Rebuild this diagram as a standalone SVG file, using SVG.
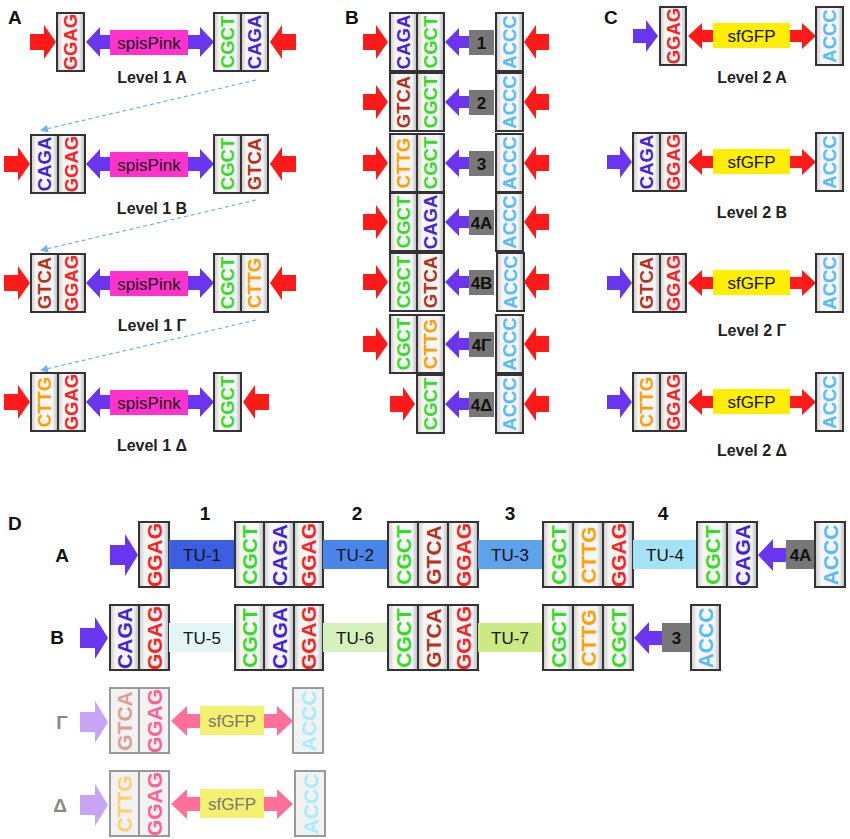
<svg xmlns="http://www.w3.org/2000/svg" width="850" height="839" viewBox="0 0 850 839">
<defs>
<linearGradient id="g" x1="0" x2="1" y1="0" y2="0"><stop offset="0" stop-color="#c8c8c8"/><stop offset="0.2" stop-color="#f6f6f6"/><stop offset="0.8" stop-color="#f6f6f6"/><stop offset="1" stop-color="#b8b8b8"/></linearGradient>
<marker id="ah" markerWidth="8" markerHeight="8" refX="6" refY="4" orient="auto" markerUnits="userSpaceOnUse"><path d="M0,0 L8,4 L0,8 z" fill="#6ab4ee"/></marker>
</defs>
<style>
.c{fill:url(#g);stroke:#333;stroke-width:2}
.f{fill:#f2f2f2;stroke:#999;stroke-width:2}
.t{font-family:"Liberation Sans",Arial,sans-serif;font-size:18.5px;font-weight:bold;text-anchor:middle;dominant-baseline:central}
.td{font-family:"Liberation Sans",Arial,sans-serif;font-size:21px;font-weight:bold;text-anchor:middle;dominant-baseline:central}
.lb{font-family:"Liberation Sans",Arial,sans-serif;font-size:16px;font-weight:bold;text-anchor:middle;fill:#222}
.pl{font-family:"Liberation Sans",Arial,sans-serif;font-size:19px;font-weight:bold;fill:#111}
.gt{font-family:"Liberation Sans",Arial,sans-serif;font-size:17px;font-weight:bold;text-anchor:middle;dominant-baseline:central;fill:#111}
.nt{font-family:"Liberation Sans",Arial,sans-serif;font-size:17px;text-anchor:middle;dominant-baseline:central;fill:#111}
.r{fill:#ff1a1a}.p{fill:#6a35ee}.gr{fill:#777}
.R{fill:#ff2020}.G{fill:#33dd22}.B{fill:#4422dd}.N{fill:#b83018}.O{fill:#ffa000}.C{fill:#55bbff}
.dash{stroke:#6ab4ee;stroke-width:1.2;stroke-dasharray:4 3;fill:none}
</style>

<text class="pl" x="8" y="24">A</text>
<text class="pl" x="345" y="24">B</text>
<text class="pl" x="604" y="24">C</text>
<text class="pl" x="8" y="530">D</text>

<g id="connectors">
<line class="dash" x1="256" y1="80" x2="42" y2="130" marker-end="url(#ah)"/>
<line class="dash" x1="256" y1="200" x2="42" y2="250" marker-end="url(#ah)"/>
<line class="dash" x1="256" y1="320" x2="42" y2="370" marker-end="url(#ah)"/>
</g>

<!-- Panel A -->
<g id="A1">
<path class="r" d="M30,34h14v-9l12,17l-12,17v-9h-14z"/>
<rect class="c" x="57" y="13" width="27" height="58"/><text class="t R" transform="translate(70.5,42) rotate(-90)">GGAG</text>
<path class="p" d="M86,42l14,-15v8h100v-8l14,15l-14,15v-8h-100v8z"/>
<rect x="110" y="30" width="78" height="25" fill="#ff33cc"/><text class="nt" x="149" y="43">spisPink</text>
<rect class="c" x="214" y="13" width="27" height="58"/><text class="t G" transform="translate(227.5,42) rotate(-90)">CGCT</text>
<rect class="c" x="241" y="13" width="27" height="58"/><text class="t B" transform="translate(254.5,42) rotate(-90)">CAGA</text>
<path class="r" d="M296,34h-14v-9l-12,17l12,17v-9h14z"/>
<text class="lb" x="152" y="83">Level 1 A</text>
</g>
<g id="A2">
<path class="r" d="M4,156h14v-9l12,17l-12,17v-9h-14z"/>
<rect class="c" x="31" y="135" width="27" height="58"/><text class="t B" transform="translate(44.5,164) rotate(-90)">CAGA</text>
<rect class="c" x="58" y="135" width="27" height="58"/><text class="t R" transform="translate(71.5,164) rotate(-90)">GGAG</text>
<path class="p" d="M86,164l14,-15v8h100v-8l14,15l-14,15v-8h-100v8z"/>
<rect x="110" y="152" width="78" height="25" fill="#ff33cc"/><text class="nt" x="149" y="165">spisPink</text>
<rect class="c" x="214" y="135" width="27" height="58"/><text class="t G" transform="translate(227.5,164) rotate(-90)">CGCT</text>
<rect class="c" x="241" y="135" width="27" height="58"/><text class="t N" transform="translate(254.5,164) rotate(-90)">GTCA</text>
<path class="r" d="M296,156h-14v-9l-12,17l12,17v-9h14z"/>
<text class="lb" x="152" y="214">Level 1 B</text>
</g>
<g id="A3">
<path class="r" d="M4,275h14v-9l12,17l-12,17v-9h-14z"/>
<rect class="c" x="31" y="254" width="27" height="58"/><text class="t N" transform="translate(44.5,283) rotate(-90)">GTCA</text>
<rect class="c" x="58" y="254" width="27" height="58"/><text class="t R" transform="translate(71.5,283) rotate(-90)">GGAG</text>
<path class="p" d="M86,283l14,-15v8h100v-8l14,15l-14,15v-8h-100v8z"/>
<rect x="110" y="271" width="78" height="25" fill="#ff33cc"/><text class="nt" x="149" y="284">spisPink</text>
<rect class="c" x="214" y="254" width="27" height="58"/><text class="t G" transform="translate(227.5,283) rotate(-90)">CGCT</text>
<rect class="c" x="241" y="254" width="27" height="58"/><text class="t O" transform="translate(254.5,283) rotate(-90)">CTTG</text>
<path class="r" d="M296,275h-14v-9l-12,17l12,17v-9h14z"/>
<text class="lb" x="152" y="331">Level 1 Γ</text>
</g>
<g id="A4">
<path class="r" d="M4,394h14v-9l12,17l-12,17v-9h-14z"/>
<rect class="c" x="31" y="373" width="27" height="58"/><text class="t O" transform="translate(44.5,402) rotate(-90)">CTTG</text>
<rect class="c" x="58" y="373" width="27" height="58"/><text class="t R" transform="translate(71.5,402) rotate(-90)">GGAG</text>
<path class="p" d="M86,402l14,-15v8h100v-8l14,15l-14,15v-8h-100v8z"/>
<rect x="110" y="390" width="78" height="25" fill="#ff33cc"/><text class="nt" x="149" y="403">spisPink</text>
<rect class="c" x="214" y="373" width="27" height="58"/><text class="t G" transform="translate(227.5,402) rotate(-90)">CGCT</text>
<path class="r" d="M269,394h-14v-9l-12,17l12,17v-9h14z"/>
<text class="lb" x="152" y="451">Level 1 Δ</text>
</g>

<!-- Panel B -->
<g id="B1">
<path class="r" d="M363,34h13v-9l12,17l-12,17v-9h-13z"/>
<rect class="c" x="390" y="13" width="27" height="58"/><text class="t B" transform="translate(403.5,42) rotate(-90)">CAGA</text>
<rect class="c" x="417" y="13" width="27" height="58"/><text class="t G" transform="translate(430.5,42) rotate(-90)">CGCT</text>
<path class="p" d="M445,42l14,-14v8h11v12h-11v8z"/>
<rect class="gr" x="469" y="30" width="25" height="25"/><text class="gt" x="481.5" y="43">1</text>
<rect class="c" x="496" y="13" width="27" height="58"/><text class="t C" transform="translate(509.5,42) rotate(-90)">ACCC</text>
<path class="r" d="M549,34h-13v-9l-12,17l12,17v-9h13z"/>
</g>
<g id="B2">
<path class="r" d="M363,94h13v-9l12,17l-12,17v-9h-13z"/>
<rect class="c" x="390" y="73" width="27" height="58"/><text class="t N" transform="translate(403.5,102) rotate(-90)">GTCA</text>
<rect class="c" x="417" y="73" width="27" height="58"/><text class="t G" transform="translate(430.5,102) rotate(-90)">CGCT</text>
<path class="p" d="M445,102l14,-14v8h11v12h-11v8z"/>
<rect class="gr" x="469" y="90" width="25" height="25"/><text class="gt" x="481.5" y="103">2</text>
<rect class="c" x="496" y="73" width="27" height="58"/><text class="t C" transform="translate(509.5,102) rotate(-90)">ACCC</text>
<path class="r" d="M549,94h-13v-9l-12,17l12,17v-9h13z"/>
</g>
<g id="B3">
<path class="r" d="M363,155h13v-9l12,17l-12,17v-9h-13z"/>
<rect class="c" x="390" y="134" width="27" height="58"/><text class="t O" transform="translate(403.5,163) rotate(-90)">CTTG</text>
<rect class="c" x="417" y="134" width="27" height="58"/><text class="t G" transform="translate(430.5,163) rotate(-90)">CGCT</text>
<path class="p" d="M445,163l14,-14v8h11v12h-11v8z"/>
<rect class="gr" x="469" y="151" width="25" height="25"/><text class="gt" x="481.5" y="164">3</text>
<rect class="c" x="496" y="134" width="27" height="58"/><text class="t C" transform="translate(509.5,163) rotate(-90)">ACCC</text>
<path class="r" d="M549,155h-13v-9l-12,17l12,17v-9h13z"/>
</g>
<g id="B4A">
<path class="r" d="M363,214h13v-9l12,17l-12,17v-9h-13z"/>
<rect class="c" x="390" y="193" width="27" height="58"/><text class="t G" transform="translate(403.5,222) rotate(-90)">CGCT</text>
<rect class="c" x="417" y="193" width="27" height="58"/><text class="t B" transform="translate(430.5,222) rotate(-90)">CAGA</text>
<path class="p" d="M445,222l14,-14v8h11v12h-11v8z"/>
<rect class="gr" x="469" y="210" width="25" height="25"/><text class="gt" x="481.5" y="223">4A</text>
<rect class="c" x="496" y="193" width="27" height="58"/><text class="t C" transform="translate(509.5,222) rotate(-90)">ACCC</text>
<path class="r" d="M549,214h-13v-9l-12,17l12,17v-9h13z"/>
</g>
<g id="B4B">
<path class="r" d="M363,274h13v-9l12,17l-12,17v-9h-13z"/>
<rect class="c" x="390" y="253" width="27" height="58"/><text class="t G" transform="translate(403.5,282) rotate(-90)">CGCT</text>
<rect class="c" x="417" y="253" width="27" height="58"/><text class="t N" transform="translate(430.5,282) rotate(-90)">GTCA</text>
<path class="p" d="M445,282l14,-14v8h11v12h-11v8z"/>
<rect class="gr" x="469" y="270" width="25" height="25"/><text class="gt" x="481.5" y="283">4B</text>
<rect class="c" x="497" y="253" width="27" height="58"/><text class="t C" transform="translate(510.5,282) rotate(-90)">ACCC</text>
<path class="r" d="M549,274h-13v-9l-12,17l12,17v-9h13z"/>
</g>
<g id="B4G">
<path class="r" d="M363,336h13v-9l12,17l-12,17v-9h-13z"/>
<rect class="c" x="390" y="315" width="27" height="58"/><text class="t G" transform="translate(403.5,344) rotate(-90)">CGCT</text>
<rect class="c" x="417" y="315" width="27" height="58"/><text class="t O" transform="translate(430.5,344) rotate(-90)">CTTG</text>
<path class="p" d="M445,344l14,-14v8h11v12h-11v8z"/>
<rect class="gr" x="469" y="332" width="25" height="25"/><text class="gt" x="481.5" y="345">4Γ</text>
<rect class="c" x="496" y="315" width="27" height="58"/><text class="t C" transform="translate(509.5,344) rotate(-90)">ACCC</text>
<path class="r" d="M549,336h-13v-9l-12,17l12,17v-9h13z"/>
</g>
<g id="B4D">
<path class="r" d="M390,396h13v-9l12,17l-12,17v-9h-13z"/>
<rect class="c" x="417" y="375" width="27" height="58"/><text class="t G" transform="translate(430.5,404) rotate(-90)">CGCT</text>
<path class="p" d="M445,404l14,-14v8h11v12h-11v8z"/>
<rect class="gr" x="469" y="392" width="25" height="25"/><text class="gt" x="481.5" y="405">4Δ</text>
<rect class="c" x="496" y="375" width="27" height="58"/><text class="t C" transform="translate(509.5,404) rotate(-90)">ACCC</text>
<path class="r" d="M549,396h-13v-9l-12,17l12,17v-9h13z"/>
</g>

<!-- Panel C -->
<g id="C1">
<path class="p" d="M633,29h13v-9l12,16l-12,16v-9h-13z"/>
<rect class="c" x="660" y="7" width="26" height="58"/><text class="t R" transform="translate(673,36) rotate(-90)">GGAG</text>
<path class="r" d="M688,36l14,-13v7h100v-7l14,13l-14,13v-7h-100v7z"/>
<rect x="713" y="23" width="77" height="25" fill="#ffee00"/><text class="nt" x="751.5" y="36">sfGFP</text>
<rect class="c" x="816" y="7" width="27" height="58"/><text class="t C" transform="translate(829.5,36) rotate(-90)">ACCC</text>
<text class="lb" x="752" y="83">Level 2 A</text>
</g>
<g id="C2">
<path class="p" d="M607,155h13v-9l12,16l-12,16v-9h-13z"/>
<rect class="c" x="633" y="133" width="27" height="58"/><text class="t B" transform="translate(646.5,162) rotate(-90)">CAGA</text>
<rect class="c" x="660" y="133" width="26" height="58"/><text class="t R" transform="translate(673,162) rotate(-90)">GGAG</text>
<path class="r" d="M688,162l14,-13v7h100v-7l14,13l-14,13v-7h-100v7z"/>
<rect x="713" y="149" width="77" height="25" fill="#ffee00"/><text class="nt" x="751.5" y="162">sfGFP</text>
<rect class="c" x="816" y="133" width="27" height="58"/><text class="t C" transform="translate(829.5,162) rotate(-90)">ACCC</text>
<text class="lb" x="752" y="218">Level 2 B</text>
</g>
<g id="C3">
<path class="p" d="M607,276h13v-9l12,16l-12,16v-9h-13z"/>
<rect class="c" x="633" y="254" width="27" height="58"/><text class="t N" transform="translate(646.5,283) rotate(-90)">GTCA</text>
<rect class="c" x="660" y="254" width="26" height="58"/><text class="t R" transform="translate(673,283) rotate(-90)">GGAG</text>
<path class="r" d="M688,283l14,-13v7h100v-7l14,13l-14,13v-7h-100v7z"/>
<rect x="713" y="270" width="77" height="25" fill="#ffee00"/><text class="nt" x="751.5" y="283">sfGFP</text>
<rect class="c" x="816" y="254" width="27" height="58"/><text class="t C" transform="translate(829.5,283) rotate(-90)">ACCC</text>
<text class="lb" x="752" y="336">Level 2 Γ</text>
</g>
<g id="C4">
<path class="p" d="M607,395h13v-9l12,16l-12,16v-9h-13z"/>
<rect class="c" x="633" y="373" width="27" height="58"/><text class="t O" transform="translate(646.5,402) rotate(-90)">CTTG</text>
<rect class="c" x="660" y="373" width="26" height="58"/><text class="t R" transform="translate(673,402) rotate(-90)">GGAG</text>
<path class="r" d="M688,402l14,-13v7h100v-7l14,13l-14,13v-7h-100v7z"/>
<rect x="713" y="389" width="77" height="25" fill="#ffee00"/><text class="nt" x="751.5" y="402">sfGFP</text>
<rect class="c" x="816" y="373" width="27" height="58"/><text class="t C" transform="translate(829.5,402) rotate(-90)">ACCC</text>
<text class="lb" x="752" y="456">Level 2 Δ</text>
</g>

<!-- Panel D -->
<g id="DA">
<text class="pl" x="205" y="520" text-anchor="middle">1</text>
<text class="pl" x="357" y="520" text-anchor="middle">2</text>
<text class="pl" x="510" y="520" text-anchor="middle">3</text>
<text class="pl" x="663" y="520" text-anchor="middle">4</text>
<text class="pl" x="62" y="562" text-anchor="middle">A</text>
<path class="p" d="M110,545h15v-11l13,21l-13,21v-11h-15z"/>
<rect class="c" x="139" y="522" width="30" height="65"/><text class="td R" transform="translate(154,555) rotate(-90)">GGAG</text>
<rect x="169" y="540" width="66" height="29" fill="#3a5fe0"/><text class="nt" x="202" y="555" font-size="18">TU-1</text>
<rect class="c" x="235" y="522" width="29" height="65"/><text class="td G" transform="translate(249.5,555) rotate(-90)">CGCT</text>
<rect class="c" x="264" y="522" width="30" height="65"/><text class="td B" transform="translate(279,555) rotate(-90)">CAGA</text>
<rect class="c" x="294" y="522" width="29" height="65"/><text class="td R" transform="translate(308.5,555) rotate(-90)">GGAG</text>
<rect x="323" y="540" width="65" height="29" fill="#4a86ea"/><text class="nt" x="355" y="555" font-size="18">TU-2</text>
<rect class="c" x="388" y="522" width="30" height="65"/><text class="td G" transform="translate(403,555) rotate(-90)">CGCT</text>
<rect class="c" x="418" y="522" width="30" height="65"/><text class="td N" transform="translate(433,555) rotate(-90)">GTCA</text>
<rect class="c" x="448" y="522" width="30" height="65"/><text class="td R" transform="translate(463,555) rotate(-90)">GGAG</text>
<rect x="478" y="540" width="65" height="29" fill="#5ea2ec"/><text class="nt" x="510" y="555" font-size="18">TU-3</text>
<rect class="c" x="543" y="522" width="30" height="65"/><text class="td G" transform="translate(558,555) rotate(-90)">CGCT</text>
<rect class="c" x="573" y="522" width="30" height="65"/><text class="td O" transform="translate(588,555) rotate(-90)">CTTG</text>
<rect class="c" x="603" y="522" width="30" height="65"/><text class="td R" transform="translate(618,555) rotate(-90)">GGAG</text>
<rect x="633" y="540" width="64" height="29" fill="#a4e2f6"/><text class="nt" x="665" y="555" font-size="18">TU-4</text>
<rect class="c" x="697" y="522" width="30" height="65"/><text class="td G" transform="translate(712,555) rotate(-90)">CGCT</text>
<rect class="c" x="727" y="522" width="30" height="65"/><text class="td B" transform="translate(742,555) rotate(-90)">CAGA</text>
<path class="p" d="M758,555l15,-16v9h13v14h-13v9z"/>
<rect class="gr" x="786" y="540" width="29" height="29"/><text class="gt" x="800.5" y="555" font-size="19">4A</text>
<rect class="c" x="815" y="522" width="30" height="65"/><text class="td C" transform="translate(830,555) rotate(-90)">ACCC</text>
</g>
<g id="DB">
<text class="pl" x="57" y="644" text-anchor="middle">B</text>
<path class="p" d="M80,628h15v-11l13,21l-13,21v-11h-15z"/>
<rect class="c" x="110" y="605" width="29" height="65"/><text class="td B" transform="translate(124.5,638) rotate(-90)">CAGA</text>
<rect class="c" x="139" y="605" width="30" height="65"/><text class="td R" transform="translate(154,638) rotate(-90)">GGAG</text>
<rect x="169" y="623" width="66" height="29" fill="#e2f6f6"/><text class="nt" x="202" y="638" font-size="18">TU-5</text>
<rect class="c" x="235" y="605" width="29" height="65"/><text class="td G" transform="translate(249.5,638) rotate(-90)">CGCT</text>
<rect class="c" x="264" y="605" width="30" height="65"/><text class="td B" transform="translate(279,638) rotate(-90)">CAGA</text>
<rect class="c" x="294" y="605" width="29" height="65"/><text class="td R" transform="translate(308.5,638) rotate(-90)">GGAG</text>
<rect x="323" y="623" width="65" height="29" fill="#d6f2bc"/><text class="nt" x="355" y="638" font-size="18">TU-6</text>
<rect class="c" x="388" y="605" width="30" height="65"/><text class="td G" transform="translate(403,638) rotate(-90)">CGCT</text>
<rect class="c" x="418" y="605" width="30" height="65"/><text class="td N" transform="translate(433,638) rotate(-90)">GTCA</text>
<rect class="c" x="448" y="605" width="30" height="65"/><text class="td R" transform="translate(463,638) rotate(-90)">GGAG</text>
<rect x="478" y="623" width="65" height="29" fill="#cbea84"/><text class="nt" x="510" y="638" font-size="18">TU-7</text>
<rect class="c" x="543" y="605" width="30" height="65"/><text class="td G" transform="translate(558,638) rotate(-90)">CGCT</text>
<rect class="c" x="573" y="605" width="30" height="65"/><text class="td O" transform="translate(588,638) rotate(-90)">CTTG</text>
<rect class="c" x="603" y="605" width="30" height="65"/><text class="td G" transform="translate(618,638) rotate(-90)">CGCT</text>
<path class="p" d="M634,638l15,-16v9h13v14h-13v9z"/>
<rect class="gr" x="662" y="623" width="29" height="29"/><text class="gt" x="676.5" y="638" font-size="19">3</text>
<rect class="c" x="691" y="605" width="29" height="65"/><text class="td C" transform="translate(705.5,638) rotate(-90)">ACCC</text>
</g>
<g id="DG">
<text class="pl" x="62" y="729" text-anchor="middle" style="fill:#888">Γ</text>
<path d="M80,712h15v-11l13,21l-13,21v-11h-15z" fill="#c8a4f4"/>
<rect class="f" x="110" y="688" width="29" height="65"/><text class="td" fill="#dca090" transform="translate(124.5,721) rotate(-90)">GTCA</text>
<rect class="f" x="139" y="688" width="30" height="65"/><text class="td" fill="#ff5f96" transform="translate(154,721) rotate(-90)">GGAG</text>
<path d="M171,721l16,-15v8h90v-8l16,15l-16,15v-8h-90v8z" fill="#ff6f9a"/>
<rect x="200" y="706" width="64" height="29" fill="#f4f070"/><text class="nt" x="232" y="721" font-size="19" style="fill:#777">sfGFP</text>
<rect class="f" x="293" y="688" width="30" height="65"/><text class="td" fill="#a8eefa" transform="translate(308,721) rotate(-90)">ACCC</text>
</g>
<g id="DD">
<text class="pl" x="60" y="812" text-anchor="middle" style="fill:#888">Δ</text>
<path d="M80,795h15v-11l13,21l-13,21v-11h-15z" fill="#c8a4f4"/>
<rect class="f" x="110" y="771" width="29" height="65"/><text class="td" fill="#ffd070" transform="translate(124.5,804) rotate(-90)">CTTG</text>
<rect class="f" x="139" y="771" width="30" height="65"/><text class="td" fill="#ff5f96" transform="translate(154,804) rotate(-90)">GGAG</text>
<path d="M171,804l16,-15v8h90v-8l16,15l-16,15v-8h-90v8z" fill="#ff6f9a"/>
<rect x="200" y="789" width="64" height="29" fill="#f4f070"/><text class="nt" x="232" y="804" font-size="19" style="fill:#777">sfGFP</text>
<rect class="f" x="295" y="771" width="30" height="65"/><text class="td" fill="#a8eefa" transform="translate(310,804) rotate(-90)">ACCC</text>
</g>
</svg>
